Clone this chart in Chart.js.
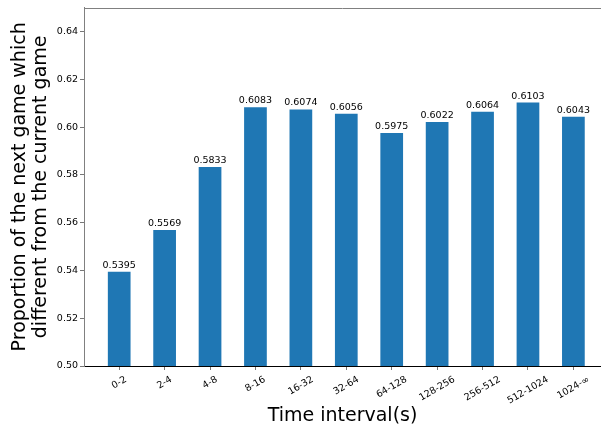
<!DOCTYPE html>
<html>
<head>
<meta charset="utf-8">
<script src="https://cdn.jsdelivr.net/npm/chart.js@4/dist/chart.umd.min.js"></script>
<style>
  html, body { margin: 0; padding: 0; background: #fff; overflow: hidden; }
  #wrap { width: 601px; height: 432px; position: relative; }
</style>
</head>
<body>
<div id="wrap"><canvas id="c" width="601" height="432"></canvas></div>
<script>
// Time intervals between games and the share of next games that differ
const intervals = ['0-2', '2-4', '4-8', '8-16', '16-32', '32-64', '64-128', '128-256', '256-512', '512-1024', '1024-∞'];
const proportions = [0.5395, 0.5569, 0.5833, 0.6083, 0.6074, 0.6056, 0.5975, 0.6022, 0.6064, 0.6103, 0.6043];
const yTicks = [0.50, 0.52, 0.54, 0.56, 0.58, 0.60, 0.62, 0.64];

const FONT = '"DejaVu Sans", "Liberation Sans", sans-serif';
const SPINE_GRAY = '#808080';

// Bar value labels, rotated category labels and the top spine
const annotate = {
  id: 'annotate',
  afterDraw(chart) {
    const { ctx, chartArea: a, scales: { x } } = chart;
    const meta = chart.getDatasetMeta(0);
    ctx.save();

    ctx.strokeStyle = SPINE_GRAY;
    ctx.lineWidth = 1;
    ctx.beginPath();
    ctx.moveTo(a.left, Math.round(a.top) + 0.5);
    ctx.lineTo(a.right, Math.round(a.top) + 0.5);
    ctx.stroke();

    ctx.fillStyle = '#000';
    ctx.font = '9.5px ' + FONT;
    ctx.textAlign = 'center';
    ctx.textBaseline = 'alphabetic';
    meta.data.forEach((bar, i) => {
      ctx.fillText(proportions[i].toFixed(4), bar.x, bar.y - 4);
    });

    const f = 9.5, ang = 30 * Math.PI / 180;
    ctx.font = f + 'px ' + FONT;
    ctx.textBaseline = 'middle';
    intervals.forEach((lab, i) => {
      const L = ctx.measureText(lab).width, h = f * 1.164;
      const H = L * Math.sin(ang) + h * Math.cos(ang);
      const cx = x.getPixelForValue(i), cy = a.bottom + 8 + H / 2;
      ctx.save();
      ctx.translate(cx, cy);
      ctx.rotate(-ang);
      ctx.fillText(lab, 0, 0);
      ctx.restore();
    });
    ctx.restore();
  }
};

new Chart(document.getElementById('c'), {
  type: 'bar',
  data: {
    datasets: [{
      data: proportions.map((v, i) => ({ x: i, y: v })),
      backgroundColor: '#1f77b4',
      borderWidth: 0,
      barPercentage: 0.5,
      categoryPercentage: 1.0
    }]
  },
  options: {
    responsive: false,
    animation: false,
    devicePixelRatio: 1,
    layout: { padding: { top: 7, right: 0, bottom: 0, left: 0 } },
    plugins: { legend: { display: false }, tooltip: { enabled: false } },
    scales: {
      x: {
        type: 'linear',
        offset: false,
        min: -0.775,
        max: 10.608,
        afterBuildTicks: s => { s.ticks = intervals.map((_, i) => ({ value: i })); },
        afterFit: s => { s.height = 66; },
        ticks: { display: false },
        grid: { offset: false, drawOnChartArea: false, drawTicks: true, tickLength: 4, color: '#777' },
        border: { color: '#000', width: 1 },
        title: {
          display: true,
          text: 'Time interval(s)',
          color: '#000',
          font: { family: FONT, size: 19 },
          padding: { top: 0, bottom: 5 }
        }
      },
      y: {
        min: 0.5,
        max: 0.65,
        afterBuildTicks: s => { s.ticks = yTicks.map(v => ({ value: v })); },
        afterFit: s => { s.width = 84; },
        ticks: {
          callback: v => v.toFixed(2),
          color: '#000',
          font: { family: FONT, size: 9.5 },
          padding: 2
        },
        grid: { drawOnChartArea: false, drawTicks: true, tickLength: 4, color: '#777' },
        border: { color: SPINE_GRAY, width: 1 },
        title: {
          display: true,
          text: ['Proportion of the next game which', 'different from the current game'],
          color: '#000',
          font: { family: FONT, size: 19, lineHeight: 1.09 },
          padding: { top: 10, bottom: 0 }
        }
      }
    }
  },
  plugins: [annotate]
});
</script>
</body>
</html>
